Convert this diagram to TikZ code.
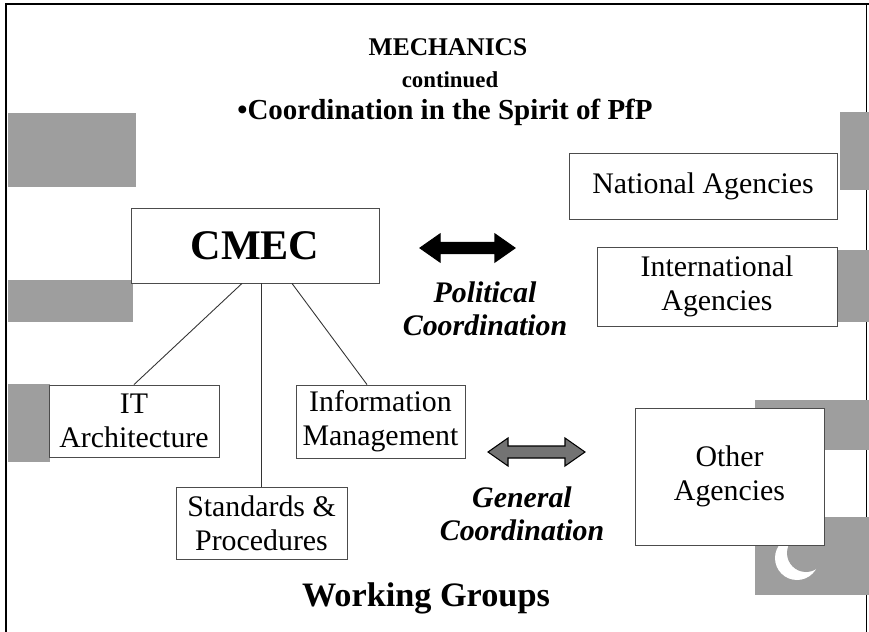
\documentclass[tikz,border=0pt]{standalone}
\usepackage{fontspec}
\setmainfont{Liberation Serif}
\usetikzlibrary{calc}

\begin{document}
\begin{tikzpicture}[x=0.02cm,y=-0.02cm,
  wgbox/.style={draw=black!70,line width=0.5pt,fill=white,align=center,inner sep=0pt,
    font=\fontsize{17}{19.5}\selectfont},
  patch/.style={fill=black!38},
  coordtxt/.style={align=center,font=\fontsize{17}{18.5}\selectfont\bfseries\itshape},
  link/.style={line width=0.5pt,black!80}]
\useasboundingbox (0,0) rectangle (869,632);
\fill[white] (0,0) rectangle (869,632);

% Slide frame
\draw[line width=1.6pt] (6,4) -- (6,632);
\draw[line width=0.6pt] (5,4) -- (869,4);
\draw[line width=0.5pt] (866,4) -- (866,632);

% Flag pictures (grey patches)
\fill[patch] (8,113) rectangle (136,187);
\fill[patch] (8,280) rectangle (133,322);
\fill[patch] (8,384) rectangle (50,462);
\fill[patch] (840,112) rectangle (869,190);
\fill[patch] (838,250) rectangle (869,322);
\fill[patch] (755,400) rectangle (869,450);
\fill[patch] (755,517) rectangle (869,595);
\fill[white] (797,558) circle (0.44cm);
\fill[patch] (806,553) circle (0.38cm);

% Title
\node[font=\fontsize{14.5}{16}\selectfont\bfseries] (title) at (448,47) {MECHANICS};
\node[font=\fontsize{13}{15}\selectfont\bfseries] (subtitle) at (450,80) {continued};
\node[font=\fontsize{16.5}{18}\selectfont\bfseries] (spirit) at (445,112) {•Coordination in the Spirit of PfP};

% Agencies (right)
\node[wgbox,minimum width=5.36cm,minimum height=1.32cm] (national) at (703,186) {National Agencies};
\node[wgbox,minimum width=4.8cm,minimum height=1.58cm] (international) at (717,286.5) {International\\Agencies};
\node[wgbox,minimum width=3.78cm,minimum height=2.74cm] (other) at (729.5,476.5) {Other\\Agencies};

% CMEC and working groups (left)
\node[wgbox,minimum width=4.96cm,minimum height=1.5cm,font=\fontsize{24}{26}\selectfont\bfseries] (cmec) at (255,245.5) {CMEC};
\node[wgbox,minimum width=3.4cm,minimum height=1.44cm] (itarch) at (134,421) {IT\\Architecture};
\node[wgbox,minimum width=3.38cm,minimum height=1.46cm] (infomgmt) at (380.5,421.5) {Information\\Management};
\node[wgbox,minimum width=3.42cm,minimum height=1.44cm] (stdproc) at (261.5,523) {Standards \&\\Procedures};

% Links from CMEC
\draw[link] ([xshift=-0.26cm]cmec.south) -- (itarch.north);
\draw[link] (cmec.south -| stdproc.north) -- (stdproc.north);
\draw[link] ([xshift=0.74cm]cmec.south) -- ([xshift=-0.27cm]infomgmt.north);

% Political coordination arrow
\draw[fill=black,line width=0.6pt] (420,248) -- (440,234) -- (440,242.5) -- (495,242.5) -- (495,234) -- (515,248)
  -- (495,262) -- (495,253.5) -- (440,253.5) -- (440,262) -- cycle;
\node[coordtxt] (political) at (485,309) {Political\\Coordination};

% General coordination arrow
\draw[fill=black!55,line width=0.6pt] (488,452) -- (508,438) -- (508,446) -- (565,446) -- (565,438) -- (585,452)
  -- (565,466) -- (565,458) -- (508,458) -- (508,466) -- cycle;
\node[coordtxt] (general) at (522,514) {General\\Coordination};

\node[font=\fontsize{19.5}{21}\selectfont\bfseries] (wgroups) at (426,598) {Working Groups};

\end{tikzpicture}
\end{document}
